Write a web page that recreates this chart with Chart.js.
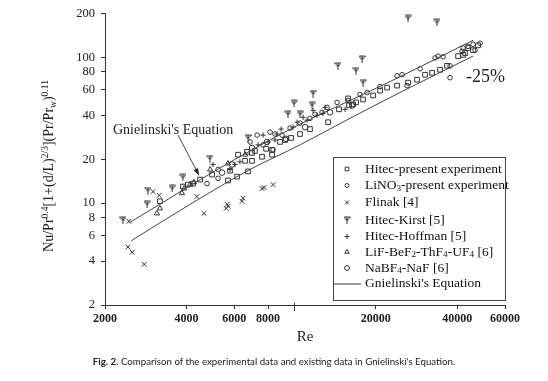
<!DOCTYPE html>
<html><head><meta charset="utf-8">
<script src="https://cdn.jsdelivr.net/npm/chart.js@4/dist/chart.umd.min.js"></script>
<style>
html,body{margin:0;padding:0;background:#fff;}
#wrap{position:relative;width:548px;height:381px;overflow:hidden;}
canvas{position:absolute;left:0;top:0;}
#cap{position:absolute;left:0;width:548px;top:355px;text-align:center;font-family:Lato,'Open Sans',sans-serif;font-size:9.7px;color:#222;white-space:nowrap;}
</style></head><body>
<div id="wrap"><canvas id="c" width="548" height="381"></canvas>
<div id="cap"><b>Fig. 2.</b> Comparison of the experimental data and existing data in Gnielinski's Equation.</div></div>
<script>
// ---- tick values ----
const xTicks = [2000, 4000, 6000, 8000, 10000, 20000, 40000, 60000];
const xTickLabels = ['2000', '4000', '6000', '8000', '', '20000', '40000', '60000'];
const yTicks = [2, 4, 6, 8, 10, 20, 40, 60, 80, 100, 200];

// ---- series: [Re, Nu/Pr^0.4[...]] ----
const hitecPresent = [[3190,10.3],[3880,13.0],[4050,13.4],[4230,13.6],[4490,14.5],[4970,15.7],[5690,14.3],[6150,15.2],[6750,16.5],[5790,16.7],[6200,21.5],[6580,19.5],[6980,19.5],[6690,22.5],[7160,22.8],[6980,22.1],[7600,20.8],[7870,23.6],[8280,23.2],[8280,21.5],[8860,26.3],[9250,27.1],[9730,28.0],[10500,29.8],[11430,32.2],[13330,35.9],[14630,44.0],[15800,52.3],[15930,46.8],[16490,47.6],[16910,49.1],[17950,51.4],[19540,54.8],[20740,59.2],[22010,62.0],[23960,64.0],[26310,67.1],[28400,70.3],[30400,76.0],[32270,78.4],[34540,82.2],[36650,87.5],[40260,102],[42000,104],[42720,107],[43830,116],[45730,112],[47720,121]];
const lino3Present = [[4760,13.6],[5230,17.0],[5230,14.8],[6870,26.3],[7290,29.3],[7670,25.1],[8140,30.7],[8490,29.8],[9010,29.3],[8350,23.2],[9650,32.7],[10500,35.4],[11430,38.2],[11930,40.7],[12660,42.0],[13210,45.4],[14390,49.1],[15800,50.6],[17490,55.6],[18570,57.4],[20740,63.0],[23960,74.8],[25000,76.0],[26090,64.0],[29140,83.5],[33100,99.1],[33960,102],[35440,101],[37600,87.5],[37600,72.5],[41640,110],[42000,116],[43830,119],[45730,123],[46510,112],[48530,125]];
const flinak = [[2450,7.5],[2430,5.0],[2520,4.6],[2790,3.8],[3170,11.3],[3010,12.0],[4370,11.1],[4640,8.5],[5650,9.8],[5700,9.5],[5600,9.2],[6470,10.8],[6410,10.3],[7600,12.6],[7730,12.8],[8350,13.4]];
const hitecKirst = [[2330,7.66],[2860,9.83],[2880,12.2],[3540,12.6],[3880,15.0],[4880,20.2],[6750,28.0],[9480,40.7],[10500,40.7],[9980,48.3],[11630,46.8],[11730,56.5],[14500,87.4],[16900,80.9],[17790,97.5],[17940,67.1],[26300,185],[33650,174]];
const hitecHoffman = [[7350,25.1],[7670,29.3],[8000,26.3],[8490,27.1],[8640,29.8],[8940,32.2],[9900,33.2],[10240,35.9],[10780,38.8],[11150,37.1],[11730,43.3],[12140,40.1],[12770,41.3],[12990,45.4],[15400,44.0],[5790,17.0],[6300,19.2],[5010,18.4],[6040,18.4]];
const lifBeF = [[3110,8.5],[3190,9.2],[3850,11.7],[3920,12.6],[4120,13.4],[4260,13.9],[4890,17.0],[5690,18.7],[6580,21.5]];
const nabf4NaF = [[5410,16.2],[5890,18.4],[6980,23.9],[7930,26.3],[9320,27.6],[10960,33.2],[13550,42.0],[16340,46.8]];
const gnielinski = [[2450,7.31],[3190,9.83],[4490,14.5],[6860,22.8],[10500,34.8],[16060,50.6],[24570,73.6],[45710,131]];
const minus25 = [[2500,5.52],[4230,10.1],[6860,17.0],[10500,25.1],[16060,38.2],[24570,57.4],[45710,102]];

const INK = '#333';
const pts = a => a.map(p => ({x: p[0], y: p[1]}));

function kirstMarker() {
  const c = document.createElement('canvas');
  c.width = 7; c.height = 8;
  const g = c.getContext('2d');
  g.strokeStyle = INK; g.fillStyle = INK; g.lineWidth = 1;
  g.beginPath(); g.moveTo(0.5, 1); g.lineTo(6.5, 1); g.lineTo(3.5, 5); g.closePath(); g.stroke();
  g.beginPath(); g.moveTo(3.5, 1); g.lineTo(3.5, 8); g.stroke();
  return c;
}
const kirstImg = kirstMarker();

function sc(label, data, style, r) {
  return {type: 'scatter', label, data: pts(data), pointStyle: style, pointRadius: r,
    borderColor: INK, backgroundColor: 'rgba(0,0,0,0)', pointBorderWidth: 1, showLine: false};
}
function ln(label, data) {
  return {type: 'line', label, data: pts(data), borderColor: '#444', borderWidth: 1,
    pointRadius: 0, fill: false, cubicInterpolationMode: 'monotone'};
}

function drawRich(ctx, parts, x, y, size, fam) {
  let cx = x;
  for (const p of parts) {
    const s = p.sup || p.sub ? size * 0.68 : size;
    ctx.font = s + 'px ' + fam;
    const dy = p.sup ? -size * 0.38 : (p.sub ? size * 0.22 : 0);
    ctx.fillText(p.t, cx, y + dy);
    cx += ctx.measureText(p.t).width;
  }
  return cx - x;
}
function richWidth(ctx, parts, size, fam) {
  let w = 0;
  for (const p of parts) {
    const s = p.sup || p.sub ? size * 0.68 : size;
    ctx.font = s + 'px ' + fam; w += ctx.measureText(p.t).width;
  }
  return w;
}

const SERIF = '"Liberation Serif","Times New Roman",serif';

const decor = {
  id: 'decor',
  afterDraw(chart) {
    const ctx = chart.ctx, xs = chart.scales.x, ys = chart.scales.y;
    ctx.save();
    ctx.fillStyle = '#222'; ctx.strokeStyle = INK;
    // longer tick at 10000
    const x10 = xs.getPixelForValue(10000);
    ctx.lineWidth = 1; ctx.beginPath(); ctx.moveTo(Math.round(x10) + 0.5, ys.bottom - 2); ctx.lineTo(Math.round(x10) + 0.5, ys.bottom + 6); ctx.stroke();

    // y-axis title
    const yParts = [{t:'Nu/Pr'},{t:'0.4',sup:1},{t:'[1+(d/L)'},{t:'2/3',sup:1},{t:'](Pr/Pr'},{t:'w',sub:1},{t:')'},{t:'0.11',sup:1}];
    const w = richWidth(ctx, yParts, 14, SERIF);
    ctx.save(); ctx.translate(53, 166 + w / 2); ctx.rotate(-Math.PI / 2);
    ctx.textBaseline = 'alphabetic'; ctx.textAlign = 'left';
    drawRich(ctx, yParts, 0, 0, 14, SERIF);
    ctx.restore();

    // x-axis title
    ctx.font = '15px ' + SERIF; ctx.textAlign = 'center'; ctx.textBaseline = 'middle';
    ctx.fillText('Re', 305, 337);

    // annotation
    ctx.textAlign = 'left'; ctx.textBaseline = 'alphabetic';
    ctx.font = '14px ' + SERIF;
    ctx.fillText("Gnielinski's Equation", xs.getPixelForValue(2140), ys.getPixelForValue(29.6));
    const tx = xs.getPixelForValue(3723), ty = ys.getPixelForValue(29.3);
    const hx = xs.getPixelForValue(4449), hy = ys.getPixelForValue(15.5);
    ctx.lineWidth = 0.9; ctx.beginPath(); ctx.moveTo(tx, ty); ctx.lineTo(hx, hy); ctx.stroke();
    const ang = Math.atan2(hy - ty, hx - tx);
    ctx.beginPath(); ctx.moveTo(hx, hy);
    ctx.lineTo(hx - 7 * Math.cos(ang) + 2.5 * Math.sin(ang), hy - 7 * Math.sin(ang) - 2.5 * Math.cos(ang));
    ctx.lineTo(hx - 7 * Math.cos(ang) - 2.5 * Math.sin(ang), hy - 7 * Math.sin(ang) + 2.5 * Math.cos(ang));
    ctx.closePath(); ctx.fill();

    // -25%
    ctx.font = '18px ' + SERIF; ctx.textBaseline = 'middle';
    ctx.fillText('-25%', xs.getPixelForValue(43080), ys.getPixelForValue(72.5));

    // legend
    const L = 333.5, T = 157.5, R = 505.5, B = 300.5;
    ctx.fillStyle = '#fff'; ctx.fillRect(L, T, R - L, B - T);
    ctx.lineWidth = 1; ctx.strokeStyle = '#444'; ctx.strokeRect(L, T, R - L, B - T);
    const rows = [169, 185.5, 202.5, 220, 236.5, 252, 268, 283.5];
    const items = [
      {style:'rect', r:2.6, parts:[{t:'Hitec-present experiment'}]},
      {style:'circle', r:2, parts:[{t:'LiNO'},{t:'3',sub:1},{t:'-present experiment'}]},
      {style:'crossRot', r:2.8, parts:[{t:'Flinak [4]'}]},
      {style:kirstImg, r:3, parts:[{t:'Hitec-Kirst [5]'}]},
      {style:'cross', r:2.5, parts:[{t:'Hitec-Hoffman [5]'}]},
      {style:'triangle', r:2.6, parts:[{t:'LiF-BeF'},{t:'2',sub:1},{t:'-ThF'},{t:'4',sub:1},{t:'-UF'},{t:'4',sub:1},{t:' [6]'}]},
      {style:'circle', r:2.4, parts:[{t:'NaBF'},{t:'4',sub:1},{t:'-NaF [6]'}]},
      {line:true, parts:[{t:"Gnielinski's Equation"}]}
    ];
    ctx.textBaseline = 'middle'; ctx.textAlign = 'left';
    items.forEach((it, i) => {
      const y = rows[i];
      ctx.strokeStyle = INK; ctx.fillStyle = 'rgba(0,0,0,0)';
      if (it.line) {
        ctx.lineWidth = 1; ctx.beginPath(); ctx.moveTo(L, y + 0.5); ctx.lineTo(361, y + 0.5); ctx.stroke();
      } else {
        Chart.helpers.drawPoint(ctx, {pointStyle: it.style, radius: it.r, borderWidth: 1, rotation: 0}, 347, y);
      }
      ctx.fillStyle = '#111';
      drawRich(ctx, it.parts, 365, y, 13.5, SERIF);
    });
    ctx.restore();
  }
};

new Chart(document.getElementById('c'), {
  type: 'scatter',
  data: {
    datasets: [
      ln("Gnielinski's Equation", gnielinski),
      ln('-25%', minus25),
      sc('Hitec-present experiment', hitecPresent, 'rect', 3.3),
      sc('LiNO3-present experiment', lino3Present, 'circle', 2.3),
      sc('Flinak [4]', flinak, 'crossRot', 3.3),
      sc('Hitec-Kirst [5]', hitecKirst, kirstImg, 3),
      sc('Hitec-Hoffman [5]', hitecHoffman, 'cross', 2.6),
      sc('LiF-BeF2-ThF4-UF4 [6]', lifBeF, 'triangle', 3),
      sc('NaBF4-NaF [6]', nabf4NaF, 'circle', 2.8)
    ]
  },
  options: {
    responsive: false, animation: false, devicePixelRatio: 1, events: [],
    layout: {padding: {top: 10, right: 43, left: 0, bottom: 0}},
    plugins: {legend: {display: false}, tooltip: {enabled: false}},
    scales: {
      x: {
        type: 'logarithmic', min: 2000, max: 60000,
        afterBuildTicks: s => { s.ticks = xTicks.map(v => ({value: v})); },
        afterFit: s => { s.height = 76; },
        ticks: {autoSkip: false, maxRotation: 0, padding: 3, color: '#222',
          font: {family: SERIF, size: 12, weight: 'bold'},
          callback: v => { const i = xTicks.indexOf(v); return i < 0 ? '' : xTickLabels[i]; }},
        grid: {drawOnChartArea: false, drawTicks: true, tickLength: 4, color: INK},
        border: {display: true, color: INK, width: 1}
      },
      y: {
        type: 'logarithmic', min: 2, max: 200,
        afterBuildTicks: s => { s.ticks = yTicks.map(v => ({value: v})); },
        afterFit: s => { s.width = 105; },
        ticks: {autoSkip: false, padding: 6, color: '#222',
          font: {family: SERIF, size: 12.5},
          callback: v => yTicks.indexOf(v) < 0 ? '' : String(v)},
        grid: {drawOnChartArea: false, drawTicks: true, tickLength: 4, color: INK},
        border: {display: true, color: INK, width: 1}
      }
    }
  },
  plugins: [decor]
});
</script>
</body></html>
